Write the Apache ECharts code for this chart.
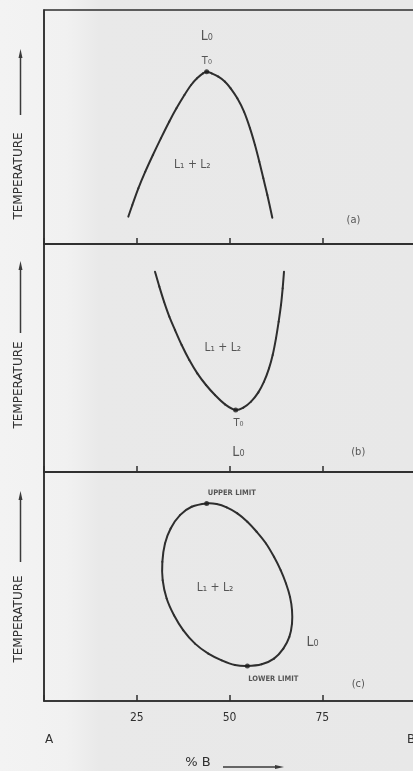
<!DOCTYPE html>
<html>
<head>
<meta charset="utf-8">
<script src="https://cdn.jsdelivr.net/npm/echarts@6/dist/echarts.min.js"></script>
<style>
  html, body { margin: 0; padding: 0; background: #e9e9e9; }
  #chart { width: 413px; height: 771px; }
</style>
</head>
<body>
<div id="chart"></div>
<script>
// Composition axis (% B), shared by the three panels
const xTicks = [25, 50, 75];
const xTickLabels = ['25', '50', '75'];

// (a) two-liquid dome closing at an upper critical point T0
const curveA = [
  [22.73, 11.68], [23.81, 16.67], [25.43, 23.79], [27.30, 30.91], [29.35, 38.03],
  [31.50, 45.16], [33.75, 52.28], [35.70, 57.98], [37.85, 63.68], [39.65, 67.95],
  [41.25, 70.80], [42.85, 72.93], [43.85, 73.65], [45.19, 72.93], [46.99, 71.51],
  [48.79, 69.37], [50.31, 66.52], [52.11, 62.25], [53.91, 56.55], [55.53, 49.43],
  [56.87, 42.31], [58.04, 35.18], [59.12, 28.06], [60.20, 20.94], [61.54, 11.25]
];
const pointA = [43.85, 73.65];

// (b) miscibility gap closing at a lower critical point T0
const curveB = [
  [29.92, 87.86], [31.09, 81.29], [32.35, 74.71], [33.78, 68.13], [35.31, 62.28],
  [37.11, 55.70], [39.17, 49.12], [41.33, 43.28], [43.67, 38.16], [46.09, 33.77],
  [48.79, 29.68], [51.66, 27.19], [53.73, 28.22], [55.80, 30.85], [57.77, 34.94],
  [59.30, 39.62], [60.65, 45.47], [61.64, 51.32], [62.53, 58.63], [63.25, 65.94],
  [63.88, 73.25], [64.33, 80.56], [64.69, 87.86]
];
const pointB = [51.66, 27.19];

// (c) closed loop with upper and lower limits (last point repeats the first)
const loopC = [
  [43.85, 86.29], [46.54, 86.00], [49.24, 84.54], [52.11, 81.92], [54.81, 78.27],
  [57.32, 73.90], [59.84, 68.80], [61.99, 62.96], [63.79, 57.13], [65.23, 51.30],
  [66.31, 45.46], [66.85, 39.63], [66.85, 33.80], [66.13, 27.97], [64.51, 22.87],
  [61.99, 18.49], [58.67, 16.01], [54.81, 15.28], [51.48, 15.72], [47.89, 17.76],
  [44.29, 20.68], [40.70, 25.05], [37.56, 30.88], [35.04, 37.45], [33.06, 44.74],
  [31.99, 52.76], [31.90, 60.77], [32.61, 68.80], [34.14, 75.36], [36.66, 81.19],
  [39.80, 84.83], [43.85, 86.29]
];
const upperC = [43.85, 86.29];
const lowerC = [54.81, 15.28];

// Region / point annotations: [text, x, y]
const notesA = [['L₀', 43.9, 88.6], ['T₀', 43.9, 78.2], ['L₁ + L₂', 40.0, 33.8], ['(a)', 83.4, 10.3]];
const notesB = [['L₁ + L₂', 48.2, 54.3], ['T₀', 52.4, 21.6], ['L₀', 52.4, 8.5], ['(b)', 84.7, 8.5]];
const notesC = [['UPPER LIMIT', 50.6, 90.7], ['L₁ + L₂', 46.1, 49.4], ['L₀', 72.4, 25.8], ['LOWER LIMIT', 61.8, 9.8], ['(c)', 84.7, 7.3]];

const FONT = "'DejaVu Sans Condensed', 'DejaVu Sans', sans-serif";
const FONT_WIDE = "'DejaVu Sans', sans-serif";
const INK = '#2e2e2e';
const TEXT = '#303030';

const noteSize = {
  'L₀': 14, 'T₀': 11, 'L₁ + L₂': 12, '(a)': 11, '(b)': 11, '(c)': 11,
  'UPPER LIMIT': 7.5, 'LOWER LIMIT': 7.5
};

// Draws one Catmull-Rom segment (point i -> i+1) per data item, in pixel space.
function curveSegment(points, closed) {
  const n = closed ? points.length - 1 : points.length;
  const idx = k => closed ? ((k % n) + n) % n : Math.max(0, Math.min(n - 1, k));
  return function (params, api) {
    const i = params.dataIndex;
    if (closed ? i >= n : i >= n - 1) return null;
    const p0 = api.coord(points[idx(i - 1)]);
    const p1 = api.coord(points[idx(i)]);
    const p2 = api.coord(points[idx(i + 1)]);
    const p3 = api.coord(points[idx(i + 2)]);
    return {
      type: 'bezierCurve',
      shape: {
        x1: p1[0], y1: p1[1], x2: p2[0], y2: p2[1],
        cpx1: p1[0] + (p2[0] - p0[0]) / 6, cpy1: p1[1] + (p2[1] - p0[1]) / 6,
        cpx2: p2[0] - (p3[0] - p1[0]) / 6, cpy2: p2[1] - (p3[1] - p1[1]) / 6
      },
      style: { stroke: INK, lineWidth: 2, fill: 'none', lineCap: 'round' }
    };
  };
}

const panels = [
  { top: 10, height: 234, curve: curveA, closed: false, dots: [pointA], notes: notesA },
  { top: 244, height: 228, curve: curveB, closed: false, dots: [pointB], notes: notesB },
  { top: 472, height: 229, curve: loopC, closed: true, dots: [upperC, lowerC], notes: notesC }
];

const grid = [], xAxis = [], yAxis = [], series = [];
panels.forEach((p, i) => {
  grid.push({
    left: 44, top: p.top, width: 371, height: p.height,
    outerBoundsMode: 'none', containLabel: false,
    show: true, borderColor: INK, borderWidth: 1.5, backgroundColor: 'transparent'
  });
  xAxis.push({
    type: 'value', gridIndex: i, min: 0, max: 100, interval: 25,
    axisLine: { show: true, lineStyle: { color: INK, width: 1.5 } },
    axisTick: { show: true, inside: true, length: 6, lineStyle: { color: INK, width: 1.5 } },
    splitLine: { show: false },
    axisLabel: {
      show: i === 2, margin: 11, fontFamily: FONT, fontSize: 12, color: TEXT,
      formatter: v => { const k = xTicks.indexOf(v); return k >= 0 ? xTickLabels[k] : ''; }
    }
  });
  yAxis.push({
    type: 'value', gridIndex: i, min: 0, max: 100,
    axisLine: { show: true, lineStyle: { color: INK, width: 1.5 } },
    axisTick: { show: false }, axisLabel: { show: false }, splitLine: { show: false }
  });
  series.push({
    type: 'custom', xAxisIndex: i, yAxisIndex: i, data: p.curve,
    encode: { x: 0, y: 1 }, silent: true,
    renderItem: curveSegment(p.curve, p.closed)
  });
  series.push({
    type: 'scatter', xAxisIndex: i, yAxisIndex: i, data: p.dots, z: 5,
    symbolSize: 5, itemStyle: { color: '#1e1e1e' }, silent: true
  });
  series.push({
    type: 'scatter', xAxisIndex: i, yAxisIndex: i, symbolSize: 0, silent: true,
    data: p.notes.map(n => ({
      value: [n[1], n[2]], name: n[0],
      label: {
        fontSize: noteSize[n[0]],
        fontWeight: n[0].indexOf('LIMIT') >= 0 ? 'bold' : 'normal'
      }
    })),
    label: {
      show: true, position: 'inside', formatter: d => d.name,
      fontFamily: FONT, color: TEXT
    }
  });
});

// Rotated "TEMPERATURE" titles with upward arrows, one per panel
const tempTitles = [
  { textY: 176, arrowTop: 50, arrowBottom: 115 },
  { textY: 385, arrowTop: 262, arrowBottom: 333 },
  { textY: 619, arrowTop: 492, arrowBottom: 562 }
];
const graphic = [{
  type: 'rect', z: -100, silent: true,
  shape: { x: 0, y: 0, width: 413, height: 771 },
  style: {
    fill: {
      type: 'linear', x: 0, y: 0, x2: 1, y2: 0,
      colorStops: [
        { offset: 0, color: '#f3f3f3' }, { offset: 0.16, color: '#f1f1f1' },
        { offset: 0.24, color: '#e9e9e9' }, { offset: 1, color: '#e8e8e8' }
      ]
    }
  }
}];
tempTitles.forEach(t => {
  graphic.push({
    type: 'text', x: 19, y: t.textY, rotation: Math.PI / 2, silent: true,
    style: { text: 'TEMPERATURE', font: '12px ' + FONT_WIDE, fill: TEXT, align: 'center', verticalAlign: 'middle' }
  });
  graphic.push({
    type: 'line', silent: true,
    shape: { x1: 20.5, y1: t.arrowBottom, x2: 20.5, y2: t.arrowTop + 5 },
    style: { stroke: '#3a3a3a', lineWidth: 1.5 }
  });
  graphic.push({
    type: 'polygon', silent: true,
    shape: { points: [[20.5, t.arrowTop - 1], [18.5, t.arrowTop + 8], [22.5, t.arrowTop + 8]] },
    style: { fill: '#3a3a3a' }
  });
});
// Composition end-members and axis title
graphic.push(
  { type: 'text', x: 49, y: 740, silent: true,
    style: { text: 'A', font: '12px ' + FONT_WIDE, fill: TEXT, align: 'center', verticalAlign: 'middle' } },
  { type: 'text', x: 411, y: 740, silent: true,
    style: { text: 'B', font: '12px ' + FONT_WIDE, fill: TEXT, align: 'center', verticalAlign: 'middle' } },
  { type: 'text', x: 198, y: 763, silent: true,
    style: { text: '% B', font: '13px ' + FONT_WIDE, fill: TEXT, align: 'center', verticalAlign: 'middle' } },
  { type: 'line', silent: true,
    shape: { x1: 223, y1: 767, x2: 276, y2: 767 },
    style: { stroke: '#3a3a3a', lineWidth: 1.5 } },
  { type: 'polygon', silent: true,
    shape: { points: [[284, 767], [275, 765], [275, 769]] },
    style: { fill: '#3a3a3a' } }
);

const chart = echarts.init(document.getElementById('chart'), null, { renderer: 'canvas' });
chart.setOption({
  animation: false,
  backgroundColor: '#e9e9e9',
  grid, xAxis, yAxis, series, graphic
});
</script>
</body>
</html>
